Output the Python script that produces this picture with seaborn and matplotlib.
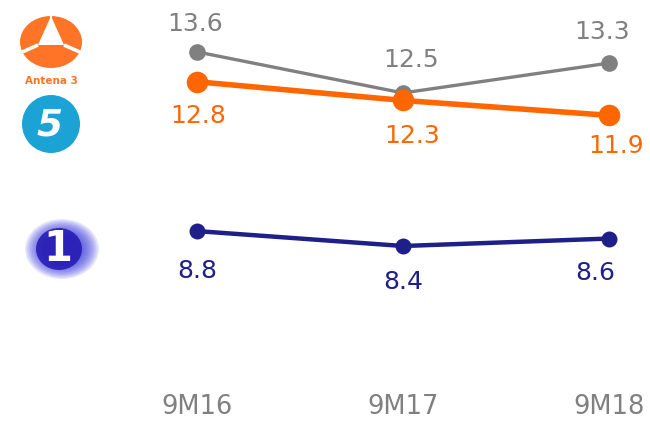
import numpy as np
import pandas as pd
import seaborn as sns
import matplotlib.pyplot as plt
from matplotlib.patches import Ellipse, Circle, Polygon

periods = ['9M16', '9M17', '9M18']
antena3 = [13.6, 12.5, 13.3]
telecinco = [12.8, 12.3, 11.9]
la1 = [8.8, 8.4, 8.6]

sns.set_theme(style='white')
plt.rcParams['font.family'] = ['DejaVu Sans']

fig = plt.figure(figsize=(6.5, 4.22), dpi=100)
ax = fig.add_axes([0, 36 / 422, 1, 386 / 422])

# series: values, colour, line width, marker size, label offsets in px (dx, dy)
series = [
    (antena3, '#808080', 2.4, 12, [(-2, 28), (8, 33), (-7, 31)]),
    (telecinco, '#ff6600', 4, 15.5, [(1, -34), (9, -36), (7, -31)]),
    (la1, '#1f1f8a', 3.2, 11.5, [(0, -40), (0, -36), (-14, -34)]),
]
for vals, col, lw, ms, offs in series:
    sns.lineplot(x=periods, y=vals, color=col, linewidth=lw, marker='o',
                 markersize=ms, markeredgewidth=0, ax=ax, sort=False)
    for i, v in enumerate(vals):
        dx, dy = offs[i]
        ax.annotate(f'{v}', (i, v), xytext=(dx * 0.72, dy * 0.72),
                    textcoords='offset points', ha='center', va='center',
                    color=col, fontsize=18)

ax.set_xlim(-0.956, 2.199)
ax.set_ylim(4.65, 14.99)
ax.set_yticks([])
ax.tick_params(axis='x', length=0, pad=5.5, labelsize=18.5, labelcolor='#808080')
ax.set_xlabel('')
ax.set_ylabel('')
for s in ax.spines.values():
    s.set_visible(False)
ax.patch.set_alpha(0)

# logos drawn in pixel space
lg = fig.add_axes([0, 0, 1, 1], zorder=-1)
lg.set_xlim(0, 650)
lg.set_ylim(422, 0)
lg.axis('off')

# Antena 3
a3 = '#ff7426'
lg.add_patch(Ellipse((51, 42), 62, 52, color=a3, lw=0))
lg.add_patch(Polygon([[51, 16], [38, 45], [64, 45]], color='white', lw=0))
lg.plot([51, 51], [15, 20], color='white', lw=1.5)
lg.plot([38, 20], [45, 53], color='white', lw=2.6, solid_capstyle='butt')
lg.plot([64, 82], [45, 53], color='white', lw=2.6, solid_capstyle='butt')
lg.text(51, 81, 'Antena 3', ha='center', va='center', color=a3,
        fontsize=7.5, fontweight='bold')

# Telecinco
lg.add_patch(Circle((51, 124), 29, color='#1ca3d6', lw=0))
lg.text(50, 125, '5', ha='center', va='center', color='white',
        fontsize=27, fontweight='bold', fontstyle='italic')

# La 1 (soft blurred oval)
for k in np.linspace(1, 0.5, 12):
    lg.add_patch(Ellipse((62, 249), 74 * k, 60 * k, color='#3a3ae0', alpha=0.12, lw=0))
lg.add_patch(Ellipse((59, 249), 46, 42, color='#2418b0', alpha=0.85, lw=0))
lg.text(58, 249, '1', ha='center', va='center', color='white',
        fontsize=30, fontweight='bold')

fig.savefig('out.png', dpi=100)
